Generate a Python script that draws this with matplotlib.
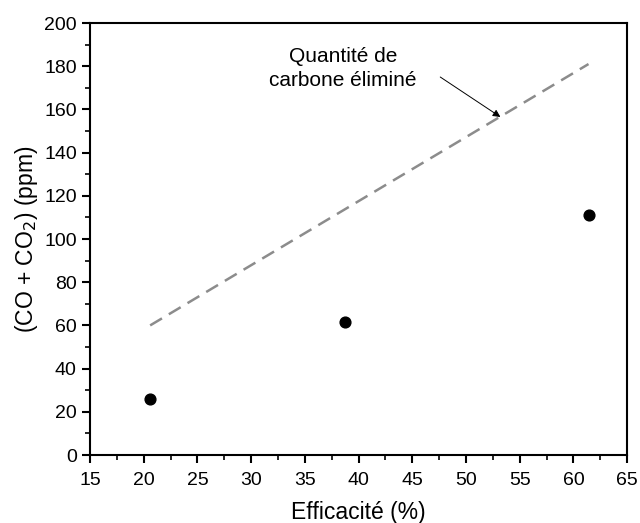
import matplotlib.pyplot as plt
from matplotlib.ticker import MultipleLocator

plt.rcParams['font.family'] = ['Liberation Sans', 'DejaVu Sans']

# données
efficacite = [20.6, 38.7, 61.4]
co_co2 = [26, 61.5, 111]
ligne_x = [20.6, 61.4]
ligne_y = [60, 181]

fig = plt.figure(figsize=(6.4, 5.23), dpi=100)
ax = fig.add_axes([0.1406, 0.130, 0.8394, 0.826])

ax.plot(ligne_x, ligne_y, linestyle=(0, (5.5, 3.2)), color='#8c8c8c', linewidth=1.8)
ax.scatter(efficacite, co_co2, s=60, color='black', zorder=3)

# texte + flèche
ax.text(38.55, 179, 'Quantité de\ncarbone éliminé', ha='center', va='center',
        fontsize=15, linespacing=1.3)
ax.annotate('', xy=(53.2, 156.5), xytext=(47.6, 175),
            arrowprops=dict(arrowstyle='-|>', color='black', lw=0.7, mutation_scale=11,
                            shrinkA=0, shrinkB=0))

ax.set_xlim(15, 65)
ax.set_ylim(0, 200)
ax.xaxis.set_major_locator(MultipleLocator(5))
ax.xaxis.set_minor_locator(MultipleLocator(2.5))
ax.yaxis.set_major_locator(MultipleLocator(20))
ax.yaxis.set_minor_locator(MultipleLocator(10))
ax.tick_params(which='major', direction='out', length=6, width=1.5, labelsize=14)
ax.tick_params(axis='x', which='major', pad=6)
ax.tick_params(which='minor', direction='out', length=3.5, width=1.2)
for s in ax.spines.values():
    s.set_linewidth(1.5)

ax.set_xlabel('Efficacité (%)', fontsize=16.5, labelpad=9)
ax.set_ylabel('(CO + CO$_2$) (ppm)', fontsize=16.5, labelpad=3)

fig.savefig('out.png', dpi=100)
